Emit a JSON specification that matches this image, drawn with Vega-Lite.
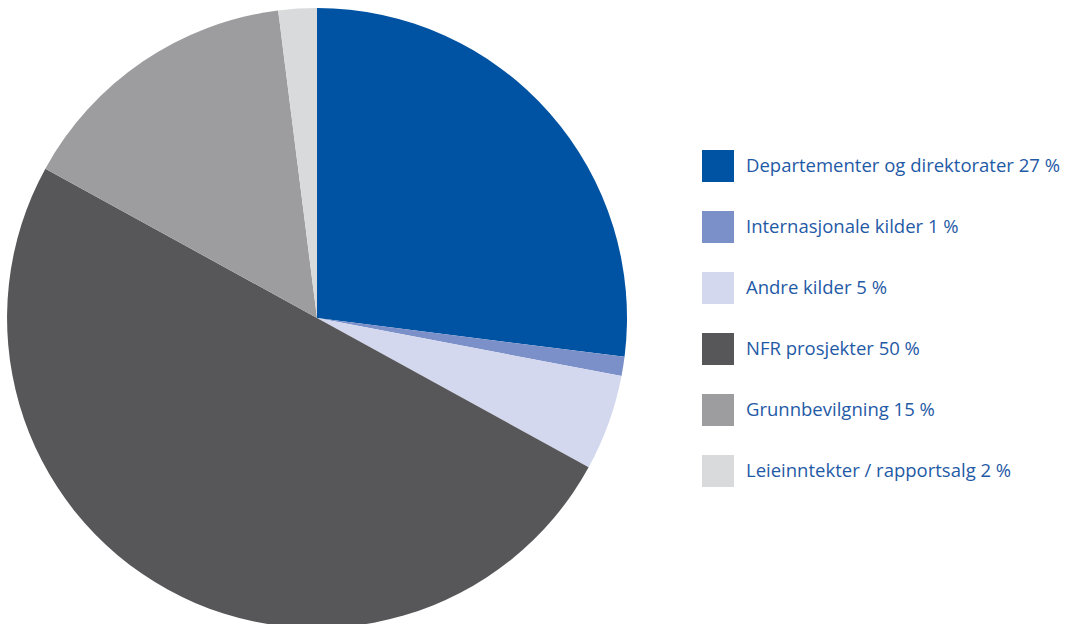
{
  "$schema": "https://vega.github.io/schema/vega-lite/v6.json",
  "autosize": {"type": "none"},
  "padding": {"left": 0, "top": 0, "right": 432, "bottom": 0},
  "width": 634,
  "height": 636,
  "background": "white",
  "view": {"stroke": null},
  "data": {
    "values": [
      {"label": "Departementer og direktorater 27 %", "value": 27, "order": 1},
      {"label": "Internasjonale kilder 1 %", "value": 1, "order": 2},
      {"label": "Andre kilder 5 %", "value": 5, "order": 3},
      {"label": "NFR prosjekter 50 %", "value": 50, "order": 4},
      {"label": "Grunnbevilgning 15 %", "value": 15, "order": 5},
      {"label": "Leieinntekter / rapportsalg 2 %", "value": 2, "order": 6}
    ]
  },
  "mark": {"type": "arc", "outerRadius": 310, "stroke": null},
  "encoding": {
    "theta": {"field": "value", "type": "quantitative", "stack": true},
    "order": {"field": "order", "type": "quantitative"},
    "color": {
      "field": "label",
      "type": "nominal",
      "scale": {
        "domain": [
          "Departementer og direktorater 27 %",
          "Internasjonale kilder 1 %",
          "Andre kilder 5 %",
          "NFR prosjekter 50 %",
          "Grunnbevilgning 15 %",
          "Leieinntekter / rapportsalg 2 %"
        ],
        "range": ["#0052A2", "#7B90C8", "#D3D8EE", "#57575A", "#9D9D9F", "#D9DADB"]
      },
      "legend": {
        "title": null,
        "orient": "none",
        "legendX": 702,
        "legendY": 150,
        "padding": 0,
        "symbolType": "square",
        "symbolSize": 1024,
        "symbolStrokeWidth": 0,
        "symbolOpacity": 1,
        "labelFont": "Open Sans",
        "labelFontSize": 18.5,
        "labelColor": "#1F5AA6",
        "labelOffset": 12,
        "labelLimit": 400,
        "rowPadding": 29
      }
    }
  }
}
